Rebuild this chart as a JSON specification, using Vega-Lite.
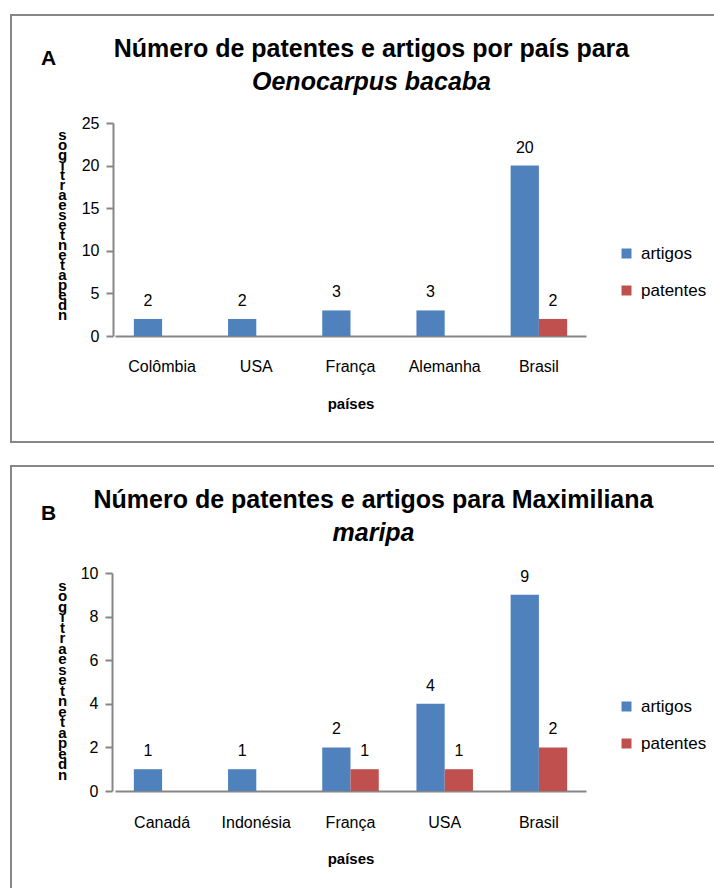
{
  "$schema": "https://vega.github.io/schema/vega-lite/v6.json",
  "padding": {"left": 10, "top": 14, "right": 0, "bottom": 0},
  "spacing": 22,
  "background": "#ffffff",
  "config": {
    "view": {"stroke": "#878787", "strokeWidth": 2},
    "axis": {"grid": false, "domainColor": "#868686", "domainWidth": 2, "tickColor": "#868686", "tickWidth": 2, "labelColor": "#000000", "titleColor": "#000000"},
    "legend": {"labelColor": "#000000"}
  },
  "resolve": {"scale": {"color": "independent"}, "legend": {"color": "independent"}},
  "datasets": {
    "a": [
      {"pais": "Colômbia", "serie": "artigos", "value": 2},
      {"pais": "Colômbia", "serie": "patentes", "value": 0},
      {"pais": "USA", "serie": "artigos", "value": 2},
      {"pais": "USA", "serie": "patentes", "value": 0},
      {"pais": "França", "serie": "artigos", "value": 3},
      {"pais": "França", "serie": "patentes", "value": 0},
      {"pais": "Alemanha", "serie": "artigos", "value": 3},
      {"pais": "Alemanha", "serie": "patentes", "value": 0},
      {"pais": "Brasil", "serie": "artigos", "value": 20},
      {"pais": "Brasil", "serie": "patentes", "value": 2}
    ],
    "b": [
      {"pais": "Canadá", "serie": "artigos", "value": 1},
      {"pais": "Canadá", "serie": "patentes", "value": 0},
      {"pais": "Indonésia", "serie": "artigos", "value": 1},
      {"pais": "Indonésia", "serie": "patentes", "value": 0},
      {"pais": "França", "serie": "artigos", "value": 2},
      {"pais": "França", "serie": "patentes", "value": 1},
      {"pais": "USA", "serie": "artigos", "value": 4},
      {"pais": "USA", "serie": "patentes", "value": 1},
      {"pais": "Brasil", "serie": "artigos", "value": 9},
      {"pais": "Brasil", "serie": "patentes", "value": 2}
    ]
  },
  "vconcat": [
    {
      "width": 705,
      "height": 427,
      "data": {"name": "a"},
      "title": {
        "text": "Número de patentes e artigos por país para",
        "subtitle": "Oenocarpus bacaba",
        "anchor": "middle", "frame": "group", "offset": -80, "dx": 8,
        "font": "Liberation Sans Narrow, Arial Narrow, Liberation Sans", "fontSize": 25, "fontWeight": "bold", "color": "#000000",
        "subtitleFont": "Liberation Sans Narrow, Arial Narrow, Liberation Sans", "subtitleFontSize": 25, "subtitleFontWeight": "bold", "subtitleFontStyle": "italic", "subtitleColor": "#000000", "subtitlePadding": 8
      },
      "encoding": {
        "y": {
          "field": "value", "type": "quantitative",
          "scale": {"domain": [0, 25], "range": [321, 108], "nice": false},
          "axis": {
            "orient": "left", "offset": -102, "values": [0, 5, 10, 15, 20, 25], "tickSize": 7, "labelPadding": 7,
            "labelFont": "Liberation Sans", "labelFontSize": 16,
            "title": ["s", "o", "g", "i", "t", "r", "a", " ", "e", " ", "s", "e", "t", "n", "e", "t", "a", "p", " ", "e", "d", " ", "n"],
            "titleAngle": 0, "titleX": -51, "titleY": 119, "titleBaseline": "middle", "titleAlign": "center", "titleLineHeight": 10,
            "titleFont": "Liberation Sans", "titleFontSize": 15, "titleFontWeight": "bold"
          }
        },
        "xOffset": {"field": "serie", "type": "nominal", "scale": {"domain": ["artigos", "patentes"]}}
      },
      "layer": [
        {
          "mark": {"type": "bar"},
          "encoding": {
            "x": {
              "field": "pais", "type": "nominal", "sort": ["Colômbia", "USA", "França", "Alemanha", "Brasil"],
              "scale": {"range": [104, 575], "paddingInner": 0.4, "paddingOuter": 0.2},
              "axis": {
                "orient": "bottom", "offset": -106, "ticks": false, "labelPadding": 22, "labelAngle": 0,
                "labelFont": "Liberation Sans Narrow, Arial Narrow, Liberation Sans", "labelFontSize": 16,
                "title": "países", "titleFont": "Liberation Sans Narrow, Arial Narrow, Liberation Sans", "titleFontSize": 15, "titleFontWeight": "bold", "titlePadding": 22
              }
            },
            "color": {
              "field": "serie", "type": "nominal",
              "scale": {"domain": ["artigos", "patentes"], "range": ["#4F81BD", "#C0504D"]},
              "legend": {
                "orient": "none", "legendX": 607, "legendY": 230, "title": null, "symbolType": "square", "symbolSize": 100,
                "symbolStrokeWidth": 0, "labelFont": "Liberation Sans Narrow, Arial Narrow, Liberation Sans", "labelFontSize": 17,
                "rowPadding": 19, "labelOffset": 6
              }
            }
          }
        },
        {
          "transform": [{"filter": "datum.value > 0"}],
          "mark": {"type": "text", "baseline": "bottom", "dy": -10, "font": "Liberation Sans", "fontSize": 16, "color": "#000000"},
          "encoding": {
            "x": {
              "field": "pais", "type": "nominal", "sort": ["Colômbia", "USA", "França", "Alemanha", "Brasil"],
              "axis": {
                "orient": "top", "domain": false, "ticks": false, "labels": false,
                "title": "A", "titleX": 37, "titleY": 43, "titleAngle": 0, "titleAlign": "center", "titleBaseline": "middle",
                "titleFont": "Liberation Sans Narrow, Arial Narrow, Liberation Sans", "titleFontSize": 21, "titleFontWeight": "bold"
              }
            },
            "text": {"field": "value", "type": "quantitative"}
          }
        }
      ],
      "resolve": {"axis": {"x": "independent"}}
    },
    {
      "width": 705,
      "height": 426,
      "data": {"name": "b"},
      "title": {
        "text": "Número de patentes e artigos para Maximiliana",
        "subtitle": "maripa",
        "anchor": "middle", "frame": "group", "offset": -80, "dx": 10,
        "font": "Liberation Sans Narrow, Arial Narrow, Liberation Sans", "fontSize": 25, "fontWeight": "bold", "color": "#000000",
        "subtitleFont": "Liberation Sans Narrow, Arial Narrow, Liberation Sans", "subtitleFontSize": 25, "subtitleFontWeight": "bold", "subtitleFontStyle": "italic", "subtitleColor": "#000000", "subtitlePadding": 8
      },
      "encoding": {
        "y": {
          "field": "value", "type": "quantitative",
          "scale": {"domain": [0, 10], "range": [325, 107], "nice": false},
          "axis": {
            "orient": "left", "offset": -101, "values": [0, 2, 4, 6, 8, 10], "tickSize": 7, "labelPadding": 7,
            "labelFont": "Liberation Sans", "labelFontSize": 16,
            "title": ["s", "o", "g", "i", "t", "r", "a", " ", "e", " ", "s", "e", "t", "n", "e", "t", "a", "p", " ", "e", "d", " ", "n"],
            "titleAngle": 0, "titleX": -50, "titleY": 119, "titleBaseline": "middle", "titleAlign": "center", "titleLineHeight": 10.5,
            "titleFont": "Liberation Sans", "titleFontSize": 15, "titleFontWeight": "bold"
          }
        },
        "xOffset": {"field": "serie", "type": "nominal", "scale": {"domain": ["artigos", "patentes"]}}
      },
      "layer": [
        {
          "mark": {"type": "bar"},
          "encoding": {
            "x": {
              "field": "pais", "type": "nominal", "sort": ["Canadá", "Indonésia", "França", "USA", "Brasil"],
              "scale": {"range": [104, 575], "paddingInner": 0.4, "paddingOuter": 0.2},
              "axis": {
                "orient": "bottom", "offset": -101, "ticks": false, "labelPadding": 23, "labelAngle": 0,
                "labelFont": "Liberation Sans Narrow, Arial Narrow, Liberation Sans", "labelFontSize": 16,
                "title": "países", "titleFont": "Liberation Sans Narrow, Arial Narrow, Liberation Sans", "titleFontSize": 15, "titleFontWeight": "bold", "titlePadding": 21
              }
            },
            "color": {
              "field": "serie", "type": "nominal",
              "scale": {"domain": ["artigos", "patentes"], "range": ["#4F81BD", "#C0504D"]},
              "legend": {
                "orient": "none", "legendX": 607, "legendY": 232, "title": null, "symbolType": "square", "symbolSize": 100,
                "symbolStrokeWidth": 0, "labelFont": "Liberation Sans Narrow, Arial Narrow, Liberation Sans", "labelFontSize": 17,
                "rowPadding": 19, "labelOffset": 6
              }
            }
          }
        },
        {
          "transform": [{"filter": "datum.value > 0"}],
          "mark": {"type": "text", "baseline": "bottom", "dy": -10, "font": "Liberation Sans", "fontSize": 16, "color": "#000000"},
          "encoding": {
            "x": {
              "field": "pais", "type": "nominal", "sort": ["Canadá", "Indonésia", "França", "USA", "Brasil"],
              "axis": {
                "orient": "top", "domain": false, "ticks": false, "labels": false,
                "title": "B", "titleX": 37, "titleY": 47, "titleAngle": 0, "titleAlign": "center", "titleBaseline": "middle",
                "titleFont": "Liberation Sans Narrow, Arial Narrow, Liberation Sans", "titleFontSize": 21, "titleFontWeight": "bold"
              }
            },
            "text": {"field": "value", "type": "quantitative"}
          }
        }
      ],
      "resolve": {"axis": {"x": "independent"}}
    }
  ]
}
